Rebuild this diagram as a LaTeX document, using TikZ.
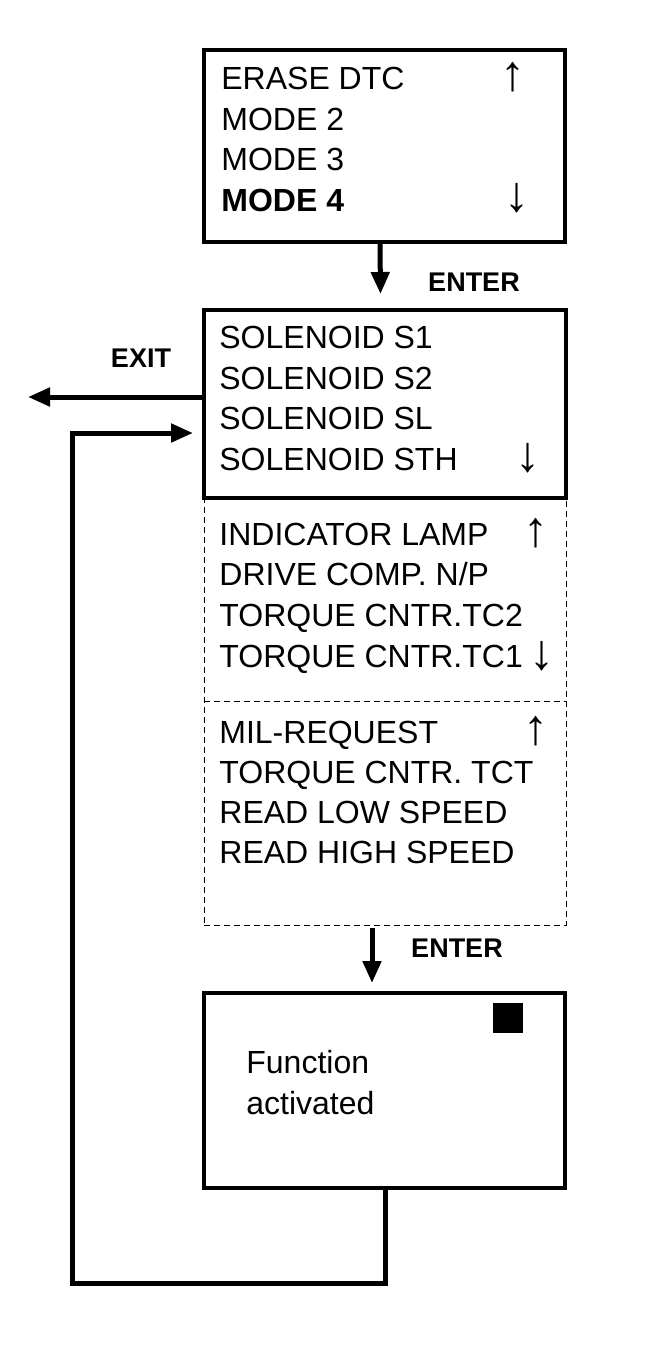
\documentclass[tikz,border=0pt]{standalone}
\usepackage{fontspec}
\setmainfont{Liberation Sans}
\usetikzlibrary{arrows.meta,calc}
\begin{document}
\begin{tikzpicture}[x=0.5pt,y=-0.5pt,
  box/.style={draw,line width=2pt,inner sep=0,minimum width=180.5pt},
  dbox/.style={draw,line width=0.5pt,dash pattern=on 3pt off 2pt,inner sep=0,minimum width=181pt},
  dline/.style={line width=0.5pt,dash pattern=on 3pt off 2pt},
  item/.style={anchor=base west,inner sep=0,font=\fontsize{16}{18}\selectfont},
  glyph/.style={anchor=center,inner sep=0,font=\fontsize{25}{28}\selectfont},
  lbl/.style={anchor=center,inner sep=0,font=\fontsize{13.5}{16}\selectfont\bfseries},
  arr/.style={line width=2.5pt,-{Triangle[length=11pt,width=9pt]}},
  link/.style={line width=2.5pt}
]
\useasboundingbox (0,0) rectangle (672,1346);

% boxes
\node[dbox,minimum height=213.5pt] (db) at (385,711.5) {};
\draw[dline] ($(db.west)+(0,-10.5)$) -- ($(db.east)+(0,-10.5)$);
\node[box,minimum height=96pt] (b1) at (384.5,146) {};
\node[box,minimum width=181pt,minimum height=94pt] (b2) at (385,404) {};
\node[box,minimum height=97.5pt] (b3) at (384.5,1090.5) {};

% box 1 texts
\node[item] (t11) at (221,89) {ERASE DTC};
\node[item] (t12) at (221,130) {MODE 2};
\node[item] (t13) at (221,170) {MODE 3};
\node[item,font=\fontsize{16}{18}\selectfont\bfseries] (t14) at (221,211) {MODE 4};
\node[glyph] (g11) at (513,77) {↑};
\node[glyph] (g12) at (517,198) {↓};

% box 2 texts
\node[item] (t21) at (219,348) {SOLENOID S1};
\node[item] (t22) at (219,389) {SOLENOID S2};
\node[item] (t23) at (219,429) {SOLENOID SL};
\node[item] (t24) at (219,470) {SOLENOID STH};
\node[glyph] (g21) at (528,458) {↓};

% dashed box texts
\node[item] (t31) at (219,545) {INDICATOR LAMP};
\node[item] (t32) at (219,585) {DRIVE COMP. N/P};
\node[item] (t33) at (219,626) {TORQUE CNTR.TC2};
\node[item] (t34) at (219,667) {TORQUE CNTR.TC1};
\node[glyph] (g31) at (536,533) {↑};
\node[glyph] (g32) at (542,656) {↓};
\node[item] (t41) at (219,743) {MIL-REQUEST};
\node[item] (t42) at (219,783) {TORQUE CNTR. TCT};
\node[item] (t43) at (219,823) {READ LOW SPEED};
\node[item] (t44) at (219,863) {READ HIGH SPEED};
\node[glyph] (g41) at (536,731) {↑};

% box 3
\node[item] (f1) at (246,1073) {Function};
\node[item] (f2) at (246,1114) {activated};
\node[fill=black,inner sep=0,minimum size=15pt] (sq) at (508,1018) {};

% labels
\node[lbl] (enter1) at (474,282) {ENTER};
\node[lbl] (enter2) at (457,948) {ENTER};
\node[lbl] (exit) at (141,358) {EXIT};

% connectors
\coordinate (exitend) at (28,397);
\coordinate (retin) at (193,433);
\coordinate (corner) at (72,433);
\draw[arr] ($(b1.south)+(-4.5,0)$) -- ($(b2.north)+(-4.5,-14)$);
\draw[arr] ($(db.south)+(-13,2)$) -- ($(b3.north)+(-12.5,-8)$);
\draw[arr] ($(b2.west)+(0,-7)$) -- (exitend);
\draw[link] ($(b3.south)+(0.5,0)$) |- (72,1283) -- (corner);
\draw[arr] ($(corner)+(0,1.25)$) -- (corner) -- (retin);
\end{tikzpicture}
\end{document}
